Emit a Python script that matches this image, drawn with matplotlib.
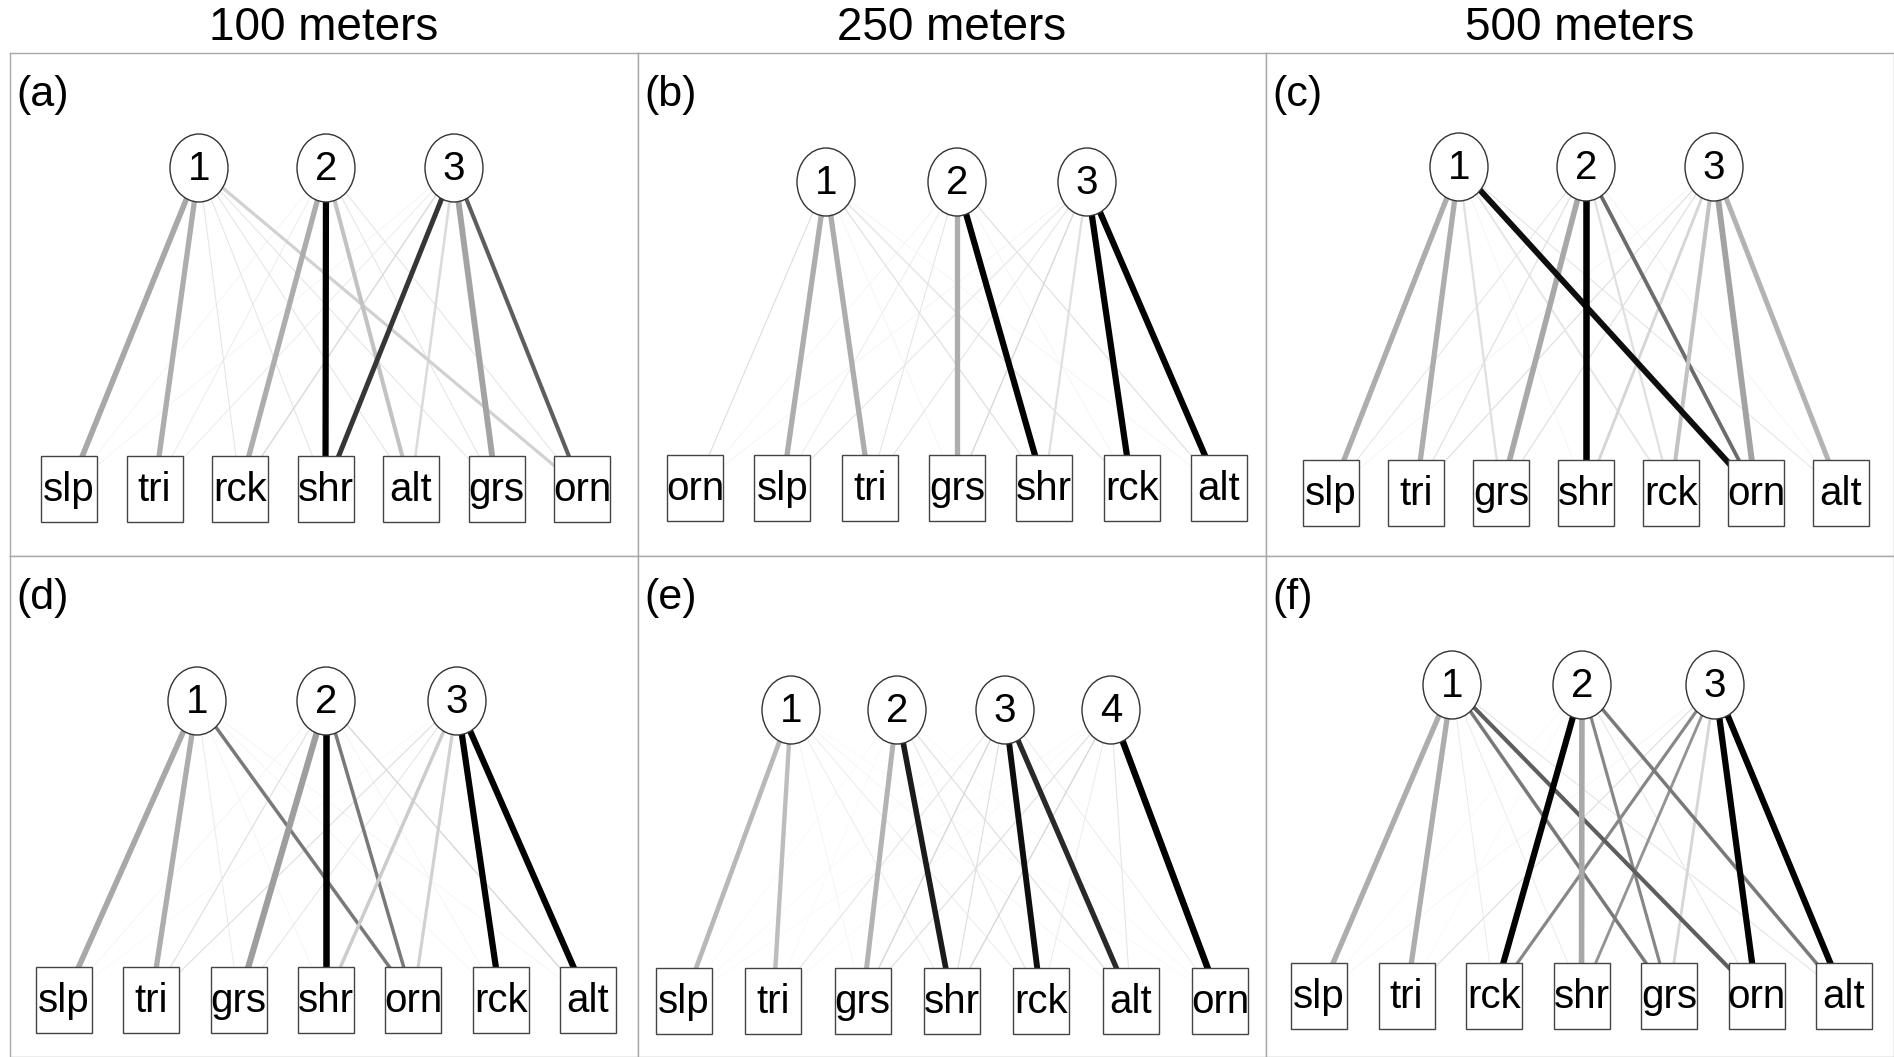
import numpy as np
import matplotlib
matplotlib.use("Agg")
import matplotlib.pyplot as plt
from matplotlib.patches import Ellipse, Rectangle

plt.rcParams['font.family'] = ['Liberation Sans', 'DejaVu Sans']

# column titles and panel letters
col_titles = ['100 meters', '250 meters', '500 meters']
panel_tags = ['(a)', '(b)', '(c)', '(d)', '(e)', '(f)']

# variable order shown under each panel
vars_a = ['slp', 'tri', 'rck', 'shr', 'alt', 'grs', 'orn']
vars_b = ['orn', 'slp', 'tri', 'grs', 'shr', 'rck', 'alt']
vars_c = ['slp', 'tri', 'grs', 'shr', 'rck', 'orn', 'alt']
vars_d = ['slp', 'tri', 'grs', 'shr', 'orn', 'rck', 'alt']
vars_e = ['slp', 'tri', 'grs', 'shr', 'rck', 'alt', 'orn']
vars_f = ['slp', 'tri', 'rck', 'shr', 'grs', 'orn', 'alt']

# loadings, one row per factor, columns follow the variable order above
# positive -> dark edge, negative -> grey edge
load_a = [[-0.85, -0.80, 0.10, 0.10, 0.10, 0.10, -0.45],
          [0.05, 0.08, -0.80, 0.95, -0.60, 0.10, 0.10],
          [0.05, 0.08, 0.15, 0.75, -0.35, -0.90, 0.60]]
load_b = [[0.12, -0.80, -0.80, 0.05, 0.12, 0.12, 0.05],
          [0.05, 0.08, 0.10, -0.80, 0.95, 0.05, 0.12],
          [0.05, 0.10, 0.10, 0.15, -0.30, 0.95, 0.95]]
load_c = [[-0.80, -0.80, -0.30, 0.05, -0.25, 0.90, 0.10],
          [0.10, 0.12, -0.85, 1.00, -0.30, 0.55, 0.05],
          [0.05, 0.12, 0.12, -0.40, -0.60, -0.90, -0.75]]
load_d = [[-0.85, -0.80, 0.08, 0.05, 0.50, 0.05, 0.05],
          [0.05, 0.12, -0.95, 1.00, 0.50, 0.05, 0.15],
          [0.03, 0.12, 0.10, -0.50, -0.45, 0.95, 0.95]]
load_e = [[-0.70, -0.65, 0.05, 0.08, 0.08, 0.05, 0.03],
          [0.03, 0.03, -0.75, 0.85, 0.10, 0.12, 0.03],
          [0.03, 0.10, 0.15, 0.12, 0.90, 0.80, 0.08],
          [0.03, 0.03, 0.12, 0.15, 0.08, 0.10, 1.00]]
load_f = [[-0.80, -0.80, 0.08, 0.08, 0.50, 0.60, 0.10],
          [0.03, 0.03, 0.95, -0.85, 0.45, 0.10, 0.50],
          [0.05, 0.12, 0.45, 0.40, -0.40, 0.95, 0.95]]

panel_vars = [vars_a, vars_b, vars_c, vars_d, vars_e, vars_f]
panel_loads = [load_a, load_b, load_c, load_d, load_e, load_f]

# layout (pixels inside each panel)
fig_w, fig_h = 1894, 1057
col_x = [10, 638, 1266, 1894]
row_y = [53, 556, 1057]
factor_x = [[189, 316, 444], [188, 319, 449], [193, 320, 448],
            [187, 316, 447], [153, 259, 367, 473], [186, 316, 449]]
factor_y = [115, 129, 114, 145, 154, 129]
box_span = [(59, 572), (57, 581), (65, 575), (54, 578), (46, 582), (53, 578)]
box_y = [436, 435, 440, 444, 445, 440]


def edge_style(v):
    m = abs(v)
    if v >= 0:
        g = max(0.0, 1 - m * 1.05)
    else:
        g = 1 - 0.4 * m
    return (g, g, g), 0.3 + 4.4 * m


fig = plt.figure(figsize=(fig_w / 100, fig_h / 100), dpi=100)

for k in range(6):
    r, c = divmod(k, 3)
    x0, x1 = col_x[c], col_x[c + 1]
    y0, y1 = row_y[r], row_y[r + 1]
    w, h = x1 - x0, y1 - y0
    ax = fig.add_axes([x0 / fig_w, 1 - y1 / fig_h, w / fig_w, h / fig_h])
    ax.set_xlim(0, w)
    ax.set_ylim(h, 0)
    ax.set_xticks([])
    ax.set_yticks([])
    for s in ax.spines.values():
        s.set_color('#a8a8a8')
        s.set_linewidth(1.0)

    names = panel_vars[k]
    L = np.array(panel_loads[k])
    bx = np.linspace(box_span[k][0], box_span[k][1], len(names))
    fx = factor_x[k]
    fy = factor_y[k]
    by = box_y[k]

    # edges, weakest first
    order = sorted([(abs(L[i, j]), i, j) for i in range(L.shape[0]) for j in range(L.shape[1])])
    for _, i, j in order:
        col, lw = edge_style(L[i, j])
        ax.plot([fx[i], bx[j]], [fy, by], color=col, lw=lw,
                solid_capstyle='butt', zorder=2)

    for i, x in enumerate(fx):
        ax.add_patch(Ellipse((x, fy), 58, 68, facecolor='white',
                             edgecolor='#333333', lw=1.0, zorder=5))
        ax.text(x, fy + 1, str(i + 1), ha='center', va='center',
                fontsize=29, zorder=6)

    for j, name in enumerate(names):
        ax.add_patch(Rectangle((bx[j] - 28, by - 33), 56, 66, facecolor='white',
                               edgecolor='#444444', lw=1.0, zorder=5))
        ax.text(bx[j], by + 1, name, ha='center', va='center',
                fontsize=29, zorder=6)

    ax.text(6, 42, panel_tags[k], ha='left', va='center', fontsize=31)

for c in range(3):
    fig.text((col_x[c] + col_x[c + 1]) / 2 / fig_w, 1 - 28 / fig_h, col_titles[c],
             ha='center', va='center', fontsize=33)

fig.savefig('out.png', dpi=100, facecolor='white')
